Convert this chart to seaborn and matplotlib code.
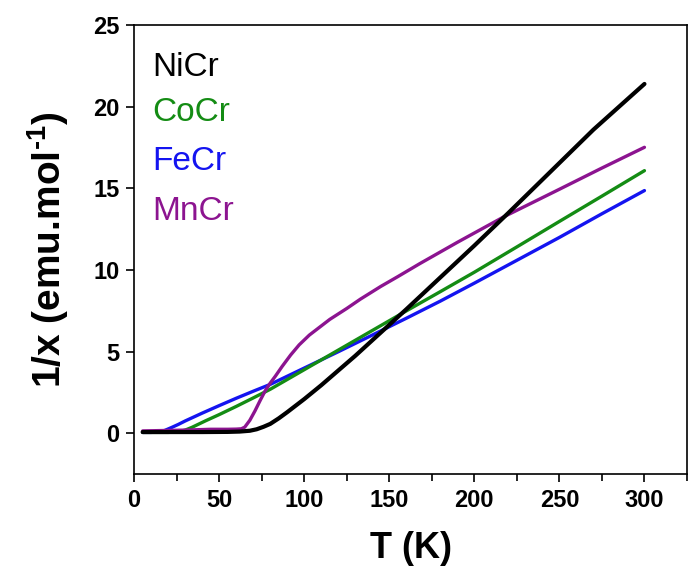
import numpy as np
import pandas as pd
import matplotlib
matplotlib.use("Agg")
import matplotlib.pyplot as plt
import seaborn as sns

# ------------------------------------------
# Data (T in K, 1/x in emu.mol-1)
# ------------------------------------------
t_nicr = [5, 20, 40, 55, 62, 68, 72, 76, 80, 85, 90, 95, 100, 110, 120, 130,
          140, 150, 160, 180, 200, 220, 245, 270, 300]
inv_nicr = [0.08, 0.08, 0.08, 0.09, 0.11, 0.16, 0.25, 0.4, 0.58, 0.92, 1.3,
            1.7, 2.1, 2.95, 3.85, 4.75, 5.7, 6.65, 7.6, 9.55, 11.5, 13.5,
            16.05, 18.6, 21.4]

t_cocr = [5, 20, 26, 30, 34, 38, 42, 50, 60, 70, 80, 100, 120, 140, 160, 180,
          200, 225, 250, 275, 300]
inv_cocr = [0.06, 0.06, 0.09, 0.2, 0.37, 0.57, 0.77, 1.15, 1.65, 2.17, 2.7,
            3.9, 5.1, 6.3, 7.5, 8.68, 9.87, 11.42, 12.98, 14.53, 16.09]

t_fecr = [5, 10, 14, 18, 22, 26, 30, 35, 40, 50, 60, 70, 80, 100, 120, 140,
          160, 180, 200, 225, 250, 275, 300]
inv_fecr = [0.06, 0.06, 0.09, 0.18, 0.36, 0.55, 0.76, 1.0, 1.24, 1.7, 2.15,
            2.58, 3.0, 4.0, 5.0, 6.02, 7.05, 8.1, 9.2, 10.6, 12.0, 13.45, 14.87]

t_mncr = [5, 30, 45, 55, 60, 63, 65, 68, 71, 74, 77, 80, 83, 87, 92, 97, 103,
          110, 115, 125, 133, 145, 155, 168, 190, 218, 250, 275, 300]
inv_mncr = [0.15, 0.2, 0.25, 0.25, 0.26, 0.28, 0.38, 0.8, 1.37, 2.0, 2.6,
            3.08, 3.5, 4.1, 4.8, 5.42, 6.02, 6.58, 6.98, 7.65, 8.22, 9.0,
            9.6, 10.4, 11.7, 13.3, 14.95, 16.25, 17.52]

names = ["NiCr", "CoCr", "FeCr", "MnCr"]
colors = {"NiCr": "#000000", "CoCr": "#148c14", "FeCr": "#1414f0",
          "MnCr": "#8c1490"}

frames = []
for name, t, v in [("NiCr", t_nicr, inv_nicr), ("CoCr", t_cocr, inv_cocr),
                   ("FeCr", t_fecr, inv_fecr), ("MnCr", t_mncr, inv_mncr)]:
    frames.append(pd.DataFrame({"T": t, "inv": v, "sample": name}))
df = pd.concat(frames, ignore_index=True)

# ------------------------------------------
# Style
# ------------------------------------------
sns.set_theme(style="ticks")
plt.rcParams["font.family"] = ["Liberation Sans", "DejaVu Sans"]
plt.rcParams["axes.linewidth"] = 1.2
plt.rcParams["text.color"] = "black"
plt.rcParams["axes.labelcolor"] = "black"
plt.rcParams["xtick.color"] = "black"
plt.rcParams["ytick.color"] = "black"
plt.rcParams["axes.edgecolor"] = "black"
plt.rcParams["mathtext.fontset"] = "custom"
plt.rcParams["mathtext.rm"] = "Liberation Sans:bold"
plt.rcParams["mathtext.bf"] = "Liberation Sans:bold"

fig = plt.figure(figsize=(6.88, 5.72), dpi=100)
ax = fig.add_axes([0.195, 0.171, 0.8035, 0.785])

# draw order: FeCr, CoCr, MnCr, NiCr on top
for name, lw in [("FeCr", 2.4), ("CoCr", 2.4), ("MnCr", 2.4), ("NiCr", 3.0)]:
    sns.lineplot(data=df[df["sample"] == name], x="T", y="inv",
                 color=colors[name], linewidth=lw, sort=False,
                 estimator=None, ax=ax, solid_capstyle="round")

ax.set_xlim(0, 325)
ax.set_ylim(-2.5, 25)
ax.set_xticks(np.arange(0, 301, 50))
ax.set_xticks(np.arange(25, 326, 50), minor=True)
ax.set_yticks(np.arange(0, 26, 5))
ax.tick_params(axis="both", which="major", direction="out", length=5.5,
               width=1.2, labelsize=17, colors="black", pad=5)
ax.tick_params(axis="x", which="minor", direction="out", length=5,
               width=1.2, colors="black")
for lab in ax.get_xticklabels() + ax.get_yticklabels():
    lab.set_fontweight("bold")
for sp in ax.spines.values():
    sp.set_visible(True)
    sp.set_color("black")

ax.set_xlabel("T (K)", fontsize=26, fontweight="bold", labelpad=14,
              color="black")
ax.set_ylabel(r"1/x (emu.mol$^{\text{-}1}$)", fontsize=28,
              fontweight="bold", labelpad=16, color="black")

# coloured labels in the upper left corner
label_y = [0.886, 0.786, 0.677, 0.566]
for name, yy in zip(names, label_y):
    ax.text(0.033, yy, name, transform=ax.transAxes, fontsize=24,
            color=colors[name], va="baseline", ha="left")

fig.savefig("out.png", dpi=100)
